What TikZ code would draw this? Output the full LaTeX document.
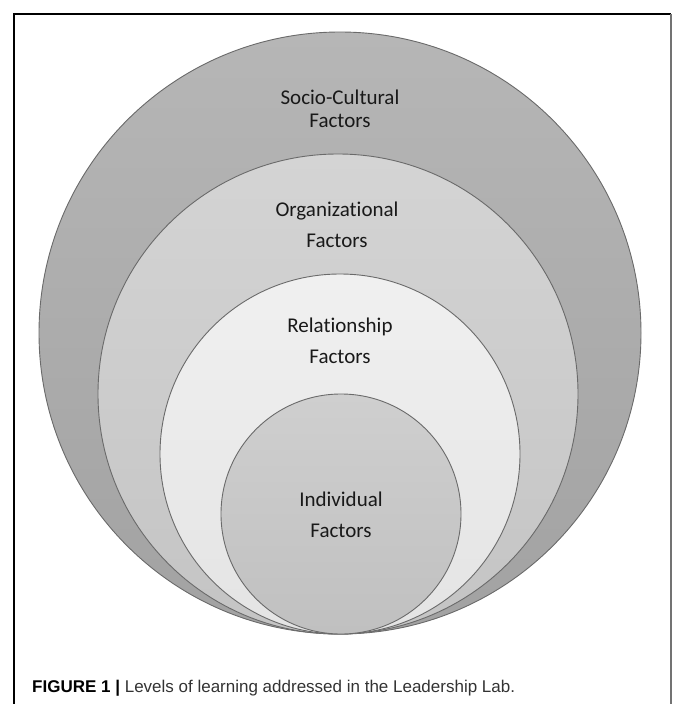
\documentclass[tikz,border=0pt]{standalone}
\usepackage{fontspec}
\setmainfont{Liberation Sans}
\newfontfamily\carlito[Ligatures=NoCommon]{Carlito}
\begin{document}
\begin{tikzpicture}[x=1pt,y=-1pt,
  ring/.style={circle, draw=ringline, line width=0.9pt, inner sep=0pt},
  lbl/.style={anchor=base, inner sep=0pt, font=\carlito\fontsize{21}{23}\selectfont, text=black!90}]
  \definecolor{ringline}{HTML}{6A6A6A}
  \useasboundingbox (0,0) rectangle (673,704);
  % frame around figure and caption
  \draw[line width=1.1pt, black] (14,704) -- (14,14) -- (671,14);
  \draw[line width=1.3pt, black!55] (671,14) -- (671,704);
  % nested circles, all touching at the bottom
  \node[ring, minimum size=602pt, top color={rgb,255:red,182;green,182;blue,182}, bottom color={rgb,255:red,162;green,162;blue,162}] (outer) at (340,333) {};
  \node[ring, minimum size=480pt, top color={rgb,255:red,212;green,212;blue,212}, bottom color={rgb,255:red,196;green,196;blue,196}] (org) at (338,394) {};
  \node[ring, minimum size=360pt, top color={rgb,255:red,240;green,240;blue,240}, bottom color={rgb,255:red,228;green,228;blue,228}] (rel) at (340,454) {};
  \node[ring, minimum size=240pt, top color={rgb,255:red,207;green,207;blue,207}, bottom color={rgb,255:red,192;green,192;blue,192}] (ind) at (341,514) {};
  % labels
  \node[lbl] (socioA) at (340,104) {Socio-Cultural};
  \node[lbl] (socioB) at (340,127) {Factors};
  \node[lbl] (orgA) at (337,216) {Organizational};
  \node[lbl] (orgB) at (337,247) {Factors};
  \node[lbl] (relA) at (340,332) {Relationship};
  \node[lbl] (relB) at (340,363) {Factors};
  \node[lbl] (indA) at (341,506) {Individual};
  \node[lbl] (indB) at (341,537) {Factors};
  % caption
  \node[anchor=base west, inner sep=0pt, font=\fontsize{17}{20}\selectfont, text=black!80] (caption) at (32,692)
    {\textcolor{black}{\textbf{FIGURE 1 |}} Levels of learning addressed in the Leadership Lab.};
\end{tikzpicture}
\end{document}
